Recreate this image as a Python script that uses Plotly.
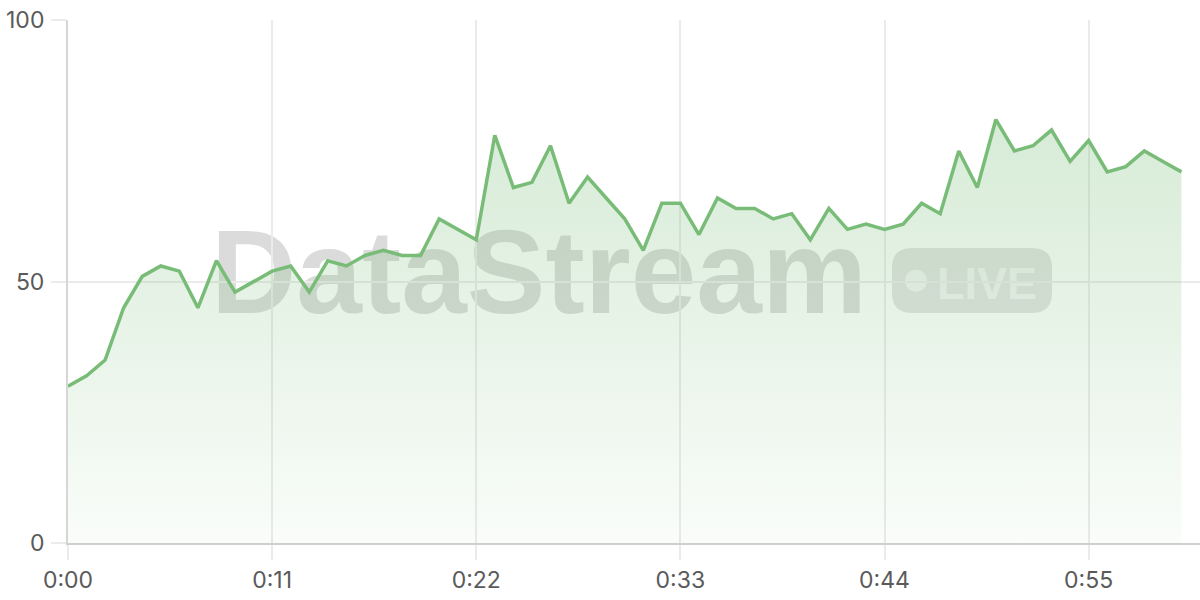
import plotly.graph_objects as go

seconds = list(range(61))
values = [30, 32, 35, 45, 51, 53, 52, 45, 54, 48,
          50, 52, 53, 48, 54, 53, 55, 56, 55, 55,
          62, 60, 58, 78, 68, 69, 76, 65, 70, 66,
          62, 56, 65, 65, 59, 66, 64, 64, 62, 63,
          58, 64, 60, 61, 60, 61, 65, 63, 75, 68,
          81, 75, 76, 79, 73, 77, 71, 72, 75, 73,
          71]
x_tickvals = [0, 11, 22, 33, 44, 55]
x_ticktext = ["0:00", "0:11", "0:22", "0:33", "0:44", "0:55"]
y_tickvals = [0, 50, 100]
watermark_text = "DataStream"
badge_text = "LIVE"

# plot area in window pixels (page body margin removed below)
L, R, T, B = 68, 1200, 20, 543
W, H = R - L, B - T
FIG_W, FIG_H = 1200, 600


def px(x):
    return (x - L) / W


def py(y):
    return (B - y) / H


fig = go.Figure()
fig.add_trace(go.Scatter(
    x=seconds, y=values, mode="lines",
    line=dict(color="#78bc78", width=3.5),
    fill="tozeroy",
    fillgradient=dict(type="vertical", start=0, stop=82,
                      colorscale=[[0, "rgba(120,188,120,0.04)"],
                                  [1, "rgba(120,188,120,0.30)"]]),
    hoverinfo="skip", showlegend=False,
))

shapes = []
# watermark text
shapes.append(dict(
    type="rect", xref="paper", yref="paper", layer="below",
    x0=px(200), x1=px(878), y0=py(310), y1=py(211),
    line=dict(width=0), fillcolor="rgba(0,0,0,0)",
    label=dict(text=watermark_text, textposition="middle center",
               font=dict(family="Liberation Sans", size=118, weight=700,
                         color="rgba(0,0,0,0.14)")),
))
# badge rounded rect
bx0, bx1, by0, by1 = px(892), px(1052), py(313), py(248)
rx, ry = 20 / W, 20 / H
path = (f"M {bx0+rx},{by0} L {bx1-rx},{by0} Q {bx1},{by0} {bx1},{by0+ry} "
        f"L {bx1},{by1-ry} Q {bx1},{by1} {bx1-rx},{by1} "
        f"L {bx0+rx},{by1} Q {bx0},{by1} {bx0},{by1-ry} "
        f"L {bx0},{by0+ry} Q {bx0},{by0} {bx0+rx},{by0} Z")
shapes.append(dict(type="path", xref="paper", yref="paper", layer="below",
                   path=path, line=dict(width=0), fillcolor="rgba(0,0,0,0.11)"))
# badge dot
shapes.append(dict(type="circle", xref="paper", yref="paper", layer="below",
                   x0=px(905), x1=px(927), y0=py(291.7), y1=py(269.7),
                   line=dict(width=0), fillcolor="rgba(255,255,255,0.62)"))
# badge text
shapes.append(dict(
    type="rect", xref="paper", yref="paper", layer="below",
    x0=px(934), x1=px(1040), y0=py(300), y1=py(258),
    line=dict(width=0), fillcolor="rgba(0,0,0,0)",
    label=dict(text=badge_text, textposition="middle center",
               font=dict(family="Liberation Sans", size=45, weight=700,
                         color="rgba(255,255,255,0.62)")),
))

fig.update_layout(
    width=FIG_W, height=FIG_H,
    margin=dict(l=L, r=FIG_W - R, t=T, b=FIG_H - B),
    paper_bgcolor="white", plot_bgcolor="white",
    font=dict(family="Inter", size=23, color="#5a5a5a"),
    shapes=shapes,
    xaxis=dict(range=[0, 61], tickvals=x_tickvals, ticktext=x_ticktext,
               showgrid=True, gridcolor="#ebebeb", gridwidth=1.5,
               showline=True, linecolor="#cfcfcf", linewidth=2,
               ticks="outside", ticklen=15, tickcolor="#ebebeb", tickwidth=1.5,
               zeroline=False, ticklabelstandoff=0, fixedrange=True,
               ticklabeloverflow="allow", automargin=False),
    yaxis=dict(range=[0, 100.05], tickvals=y_tickvals,
               showgrid=True, gridcolor="#ebebeb", gridwidth=1.5,
               showline=True, linecolor="#d6d6d6", linewidth=2,
               ticks="outside", ticklen=15, tickcolor="#ebebeb", tickwidth=1.5,
               zeroline=False, ticklabelstandoff=2, fixedrange=True,
               ticklabeloverflow="allow", automargin=False),
)

fig.write_html(
    "out.html",
    config={"displayModeBar": False},
    post_script="document.body.style.margin='0';document.body.style.overflow='hidden';",
)
